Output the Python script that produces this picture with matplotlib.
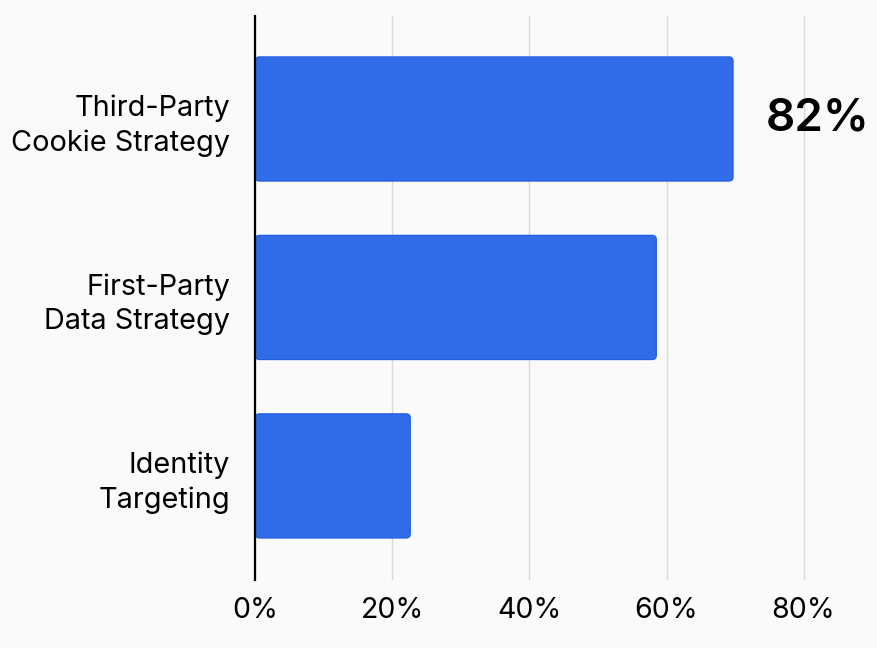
import matplotlib.pyplot as plt
from matplotlib.patches import FancyBboxPatch

categories = ["Third-Party\nCookie Strategy", "First-Party\nData Strategy", "Identity\nTargeting"]
values = [69.7, 58.5, 22.6]
callout = "82%"
xticks = [0, 20, 40, 60, 80]
xtick_labels = ["0%", "20%", "40%", "60%", "80%"]

plt.rcParams['font.family'] = ['Inter', 'DejaVu Sans']

bg = "#fafafa"
fig = plt.figure(figsize=(8.78, 6.48), dpi=100, facecolor=bg)
ax = fig.add_axes([0.2908, 0.105, 0.7025, 0.8703])
ax.set_facecolor(bg)

ypos = list(range(len(categories)))
bars = ax.barh(ypos, values, height=0.695, color="#316CE8", zorder=2)

ax.set_xlim(0, 90)
ax.set_ylim(2.583, -0.577)

# swap the plain bars for ones with rounded corners
for b in bars:
    b.set_visible(False)
    p = FancyBboxPatch((b.get_x(), b.get_y()), b.get_width(), b.get_height(),
                       boxstyle="round,pad=0,rounding_size=0.6",
                       mutation_aspect=0.0384,
                       facecolor="#316CE8", edgecolor="#2660E2", lw=1, zorder=2)
    ax.add_patch(p)

ax.set_yticks(ypos)
ax.set_yticklabels(categories, fontsize=20.8, linespacing=1.35, ha="right")
ax.set_xticks(xticks)
ax.set_xticklabels(xtick_labels, fontsize=20.5)
ax.tick_params(axis="both", length=0)
ax.tick_params(axis="y", pad=18)
ax.tick_params(axis="x", pad=12)

ax.grid(axis="x", color="#d9d9d9", lw=1, zorder=0)
ax.set_axisbelow(True)
for s in ["top", "right", "bottom"]:
    ax.spines[s].set_visible(False)
ax.spines["left"].set_color("black")
ax.spines["left"].set_linewidth(1.6)
ax.spines["left"].set_zorder(3)

ax.text(74.5, 0, callout, fontsize=33, fontweight="semibold", ha="left", va="center")

fig.savefig("out.png", dpi=100, facecolor=bg)
